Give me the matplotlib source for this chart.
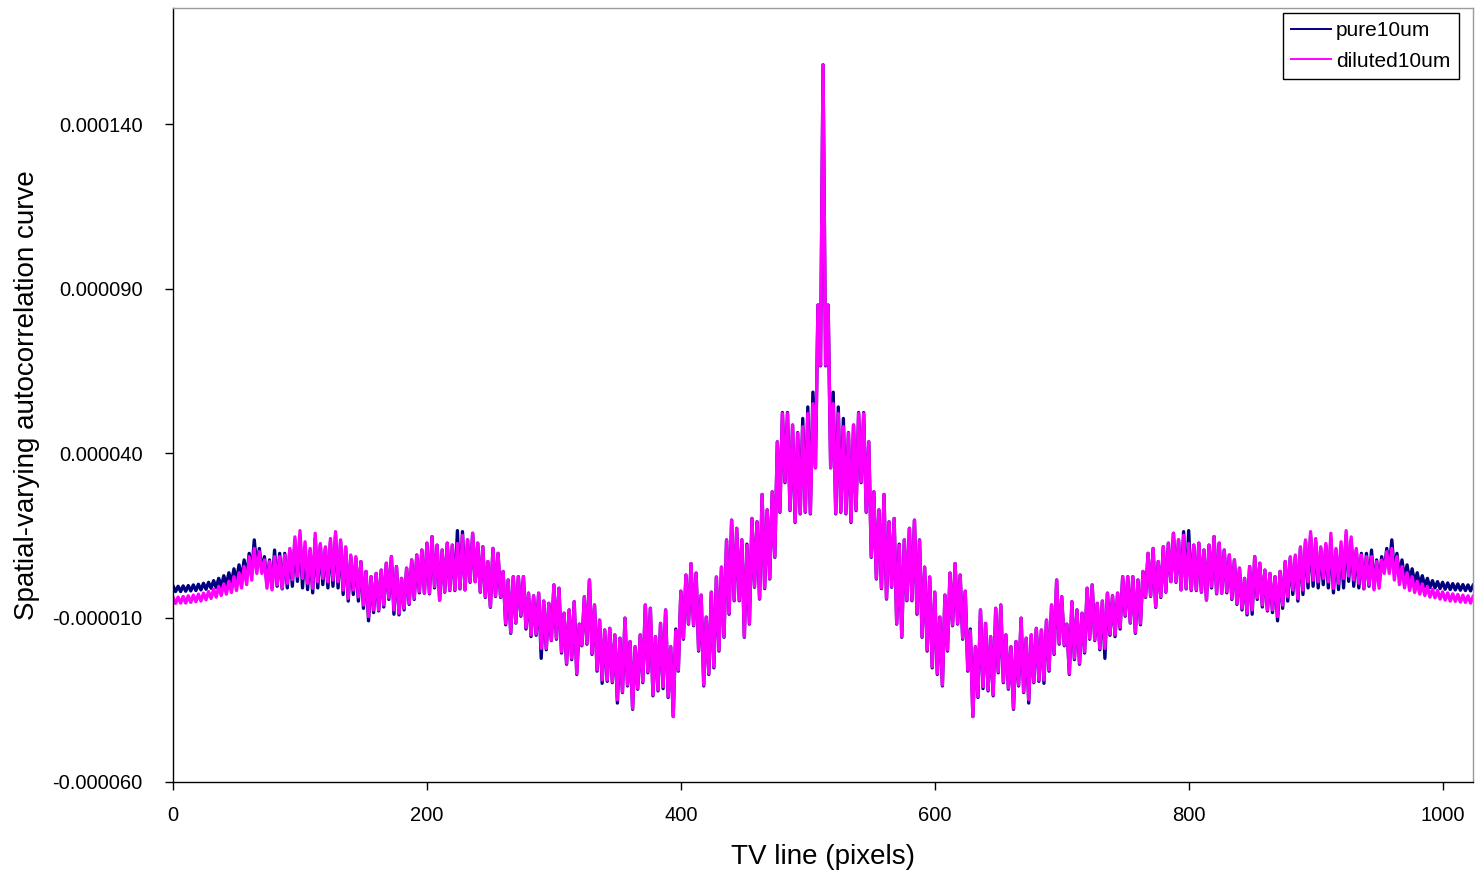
import numpy as np
import matplotlib
matplotlib.use("Agg")
import matplotlib.pyplot as plt
from matplotlib.ticker import FormatStrFormatter
from matplotlib.lines import Line2D

plt.rcParams['font.family'] = ['Liberation Sans', 'DejaVu Sans']

# TV line positions (one reading every 2 lines)
tv_line = np.arange(0, 1025, 2)

# autocorrelation values, in units of 1e-6
pure10um = [
    -0.4, -2.1, -0.5, -2.1, -0.4, -2.0, -0.3, -1.9,
    -0.1, -1.8, 0.1, -1.6, 0.4, -1.4, 0.7, -1.1,
    1.2, -0.9, 1.9, -0.6, 2.7, -0.2, 3.6, 0.4,
    4.8, 1.0, 6.0, 1.6, 7.5, 2.4, 9.5, 3.5,
    13.6, 5.0, 11.0, 4.0, 8.5, 0.0, 7.5, -1.0,
    10.5, -0.5, 9.5, -1.3, 9.5, -1.0, 10.5, -0.5,
    13.5, 1.0, 15.0, -1.0, 11.5, -1.5, 10.5, -2.5,
    14.0, -1.0, 12.0, 0.0, 11.0, -1.0, 13.0, -0.5,
    15.0, -1.0, 13.0, -3.0, 11.0, -5.0, 8.5, -3.0,
    8.0, -5.0, 7.0, -7.2, 4.0, -11.0, 2.4, -8.5,
    3.4, -8.0, 4.4, -6.8, 6.5, -4.5, 8.5, -9.0,
    5.5, -9.2, 1.9, -7.7, 5.0, -6.0, 7.5, -4.5,
    9.0, -2.5, 10.5, -2.6, 12.6, -2.8, 14.6, -1.0,
    12.0, -4.7, 10.5, -2.3, 12.6, -1.8, 12.0, -1.8,
    16.4, -1.3, 16.1, -1.6, 13.6, 0.7, 15.6, 0.9,
    12.6, -2.3, 11.5, -3.9, 7.0, -6.9, 11.0, -3.6,
    9.5, -3.9, 4.0, -12.2, 1.4, -14.8, 2.4, -11.7,
    2.4, -9.6, 2.4, -13.5, -2.6, -15.8, -3.4, -15.4,
    -2.6, -22.4, -5.0, -19.8, -5.7, -17.0, -0.1, -16.6,
    -1.1, -20.8, -8.7, -24.2, -7.7, -22.8, -5.2, -27.3,
    -12.0, -18.6, -3.7, -18.1, 1.4, -21.2, -6.2, -26.3,
    -10.8, -30.0, -13.8, -29.4, -13.3, -29.8, -15.3, -36.0,
    -16.3, -32.8, -10.2, -30.8, -17.3, -37.9, -18.9, -31.8,
    -15.3, -29.8, -6.2, -26.8, -7.2, -33.8, -15.8, -32.3,
    -11.8, -31.6, -7.7, -34.3, -18.9, -40.1, -13.5, -26.3,
    -2.0, -16.6, 2.9, -12.0, 6.4, -12.5, 3.5, -20.2,
    -3.2, -30.8, -9.9, -27.3, -2.3, -25.3, 2.3, -20.2,
    5.3, -16.0, 13.6, -9.0, 19.6, -4.9, 17.1, -4.9,
    13.6, -16.0, 12.3, -12.0, 20.1, -0.8, 19.1, -4.4,
    27.4, -1.2, 22.7, 1.7, 28.2, 8.3, 43.4, 22.0,
    52.3, 31.0, 52.3, 22.5, 48.5, 18.9, 46.2, 21.5,
    50.5, 22.0, 54.0, 21.5, 58.5, 35.5, 85.0, 66.5,
    158.0,
    66.5, 85.0, 35.5, 58.5, 21.5, 54.0, 22.0, 50.5,
    21.5, 46.2, 18.9, 48.5, 22.5, 52.3, 31.0, 52.3,
    22.0, 43.4, 8.3, 28.2, 1.7, 22.7, -1.2, 27.4,
    -4.4, 19.1, -0.8, 20.1, -12.0, 12.3, -16.0, 13.6,
    -4.9, 17.1, -4.9, 19.6, -9.0, 13.6, -16.0, 5.3,
    -20.2, 2.3, -25.3, -2.3, -27.3, -9.9, -30.8, -3.2,
    -20.2, 3.5, -12.5, 6.4, -12.0, 2.9, -16.6, -2.0,
    -26.3, -13.5, -40.1, -18.9, -34.3, -7.7, -31.6, -11.8,
    -32.3, -15.8, -33.8, -7.2, -26.8, -6.2, -29.8, -15.3,
    -31.8, -18.9, -37.9, -17.3, -30.8, -10.2, -32.8, -16.3,
    -36.0, -15.3, -29.8, -13.3, -29.4, -13.8, -30.0, -10.8,
    -26.3, -6.2, -21.2, 1.4, -18.1, -3.7, -18.6, -12.0,
    -27.3, -5.2, -22.8, -7.7, -24.2, -8.7, -20.8, -1.1,
    -16.6, -0.1, -17.0, -5.7, -19.8, -5.0, -22.4, -2.6,
    -15.4, -3.4, -15.8, -2.6, -13.5, 2.4, -9.6, 2.4,
    -11.7, 2.4, -14.8, 1.4, -12.2, 4.0, -3.9, 9.5,
    -3.6, 11.0, -6.9, 7.0, -3.9, 11.5, -2.3, 12.6,
    0.9, 15.6, 0.7, 13.6, -1.6, 16.1, -1.3, 16.4,
    -1.8, 12.0, -1.8, 12.6, -2.3, 10.5, -4.7, 12.0,
    -1.0, 14.6, -2.8, 12.6, -2.6, 10.5, -2.5, 9.0,
    -4.5, 7.5, -6.0, 5.0, -7.7, 1.9, -9.2, 5.5,
    -9.0, 8.5, -4.5, 6.5, -6.8, 4.4, -8.0, 3.4,
    -8.5, 2.4, -11.0, 4.0, -7.2, 7.0, -5.0, 8.0,
    -3.0, 8.5, -5.0, 11.0, -3.0, 13.0, -1.0, 15.0,
    -0.5, 13.0, -1.0, 11.0, 0.0, 12.0, -1.0, 14.0,
    -2.5, 10.5, -1.5, 11.5, -1.0, 15.0, 1.0, 13.5,
    -0.5, 10.5, -1.0, 9.5, -1.3, 9.5, -0.5, 10.5,
    -1.0, 7.5, 0.0, 8.5, 4.0, 11.0, 5.0, 13.6,
    3.5, 9.5, 2.4, 7.5, 1.6, 6.0, 1.0, 4.8,
    0.4, 3.6, -0.2, 2.7, -0.6, 1.9, -0.9, 1.2,
    -1.0, 0.9, -1.2, 0.7, -1.4, 0.5, -1.5, 0.3,
    -1.6, 0.2, -1.7, 0.0, -1.8, -0.1, -1.9, -0.2,
]

diluted10um = [
    -3.9, -5.7, -3.8, -5.6, -3.6, -5.6, -3.4, -5.4,
    -3.2, -5.2, -2.9, -5.0, -2.6, -4.6, -2.1, -4.2,
    -1.4, -3.8, -0.6, -3.3, 0.2, -2.9, 1.0, -2.4,
    2.4, -1.8, 3.6, -1.0, 5.5, 0.0, 8.5, 1.4,
    11.0, 3.4, 10.0, 3.4, 7.5, -1.1, 7.0, -1.6,
    8.5, -0.1, 8.5, -1.1, 9.0, 0.4, 11.0, 1.5,
    14.5, 2.6, 16.4, 1.9, 13.0, 0.4, 11.0, -1.1,
    15.6, 0.9, 12.5, 1.9, 11.5, 0.9, 14.0, 1.4,
    16.1, 0.9, 13.6, -1.6, 11.5, -4.2, 9.0, -1.6,
    8.5, -3.7, 7.0, -6.2, 4.0, -9.7, 2.4, -7.7,
    3.4, -7.7, 4.4, -6.2, 6.5, -4.0, 8.5, -7.7,
    5.5, -8.7, 1.9, -7.2, 5.0, -5.7, 7.5, -4.2,
    9.0, -2.1, 10.5, -2.6, 12.6, -2.6, 14.6, -0.6,
    12.0, -4.7, 10.5, -2.1, 12.6, -1.6, 12.0, -1.6,
    12.5, -1.1, 15.0, -1.6, 13.6, 0.9, 15.6, 0.9,
    12.6, -2.1, 11.5, -3.7, 7.0, -6.7, 11.0, -3.4,
    9.5, -3.7, 4.0, -11.8, 1.4, -14.5, 2.4, -11.5,
    2.4, -9.3, 2.4, -13.0, -2.6, -15.3, -3.4, -15.0,
    -2.6, -19.4, -5.0, -19.4, -5.7, -16.8, -0.1, -16.3,
    -1.1, -20.4, -8.7, -23.9, -7.7, -22.4, -5.2, -27.0,
    -12.0, -18.4, -3.7, -17.8, 1.4, -20.9, -6.2, -25.9,
    -10.8, -29.0, -13.8, -29.0, -13.3, -29.5, -15.3, -35.0,
    -16.3, -32.5, -10.2, -30.5, -17.3, -37.6, -18.9, -31.5,
    -15.3, -29.5, -6.2, -26.5, -7.2, -33.5, -15.8, -32.0,
    -11.8, -31.0, -7.7, -34.0, -18.9, -40.1, -14.0, -26.0,
    -2.0, -16.3, 2.9, -11.8, 6.4, -12.3, 3.5, -19.9,
    -3.2, -30.5, -9.9, -27.0, -2.3, -25.0, 2.3, -19.9,
    5.3, -15.8, 13.5, -8.7, 19.6, -4.7, 17.1, -4.7,
    13.6, -15.8, 12.0, -11.8, 20.1, -0.6, 19.1, -4.2,
    27.4, -1.0, 22.7, 1.9, 28.2, 8.5, 43.4, 22.2,
    52.0, 31.3, 52.0, 22.7, 48.5, 19.1, 46.0, 21.7,
    48.0, 22.2, 52.0, 21.7, 55.0, 35.5, 85.0, 66.7,
    158.0,
    66.7, 85.0, 35.5, 55.0, 21.7, 52.0, 22.2, 48.0,
    21.7, 46.0, 19.1, 48.5, 22.7, 52.0, 31.3, 52.0,
    22.2, 43.4, 8.5, 28.2, 1.9, 22.7, -1.0, 27.4,
    -4.2, 19.1, -0.6, 20.1, -11.8, 12.0, -15.8, 13.6,
    -4.7, 17.1, -4.7, 19.6, -8.7, 13.5, -15.8, 5.3,
    -19.9, 2.3, -25.0, -2.3, -27.0, -9.9, -30.5, -3.2,
    -19.9, 3.5, -12.3, 6.4, -11.8, 2.9, -16.3, -2.0,
    -26.0, -14.0, -40.1, -18.9, -34.0, -7.7, -31.0, -11.8,
    -32.0, -15.8, -33.5, -7.2, -26.5, -6.2, -29.5, -15.3,
    -31.5, -18.9, -37.6, -17.3, -30.5, -10.2, -32.5, -16.3,
    -35.0, -15.3, -29.5, -13.3, -29.0, -13.8, -29.0, -10.8,
    -25.9, -6.2, -20.9, 1.4, -17.8, -3.7, -18.4, -12.0,
    -27.0, -5.2, -22.4, -7.7, -23.9, -8.7, -20.4, -1.1,
    -16.3, -0.1, -16.8, -5.7, -19.4, -5.0, -19.4, -2.6,
    -15.0, -3.4, -15.3, -2.6, -13.0, 2.4, -9.3, 2.4,
    -11.5, 2.4, -14.5, 1.4, -11.8, 4.0, -3.7, 9.5,
    -3.4, 11.0, -6.7, 7.0, -3.7, 11.5, -2.1, 12.6,
    0.9, 15.6, 0.9, 13.6, -1.6, 15.0, -1.1, 12.5,
    -1.6, 12.0, -1.6, 12.6, -2.1, 10.5, -4.7, 12.0,
    -0.6, 14.6, -2.6, 12.6, -2.6, 10.5, -2.1, 9.0,
    -4.2, 7.5, -5.7, 5.0, -7.2, 1.9, -8.7, 5.5,
    -7.7, 8.5, -4.0, 6.5, -6.2, 4.4, -7.7, 3.4,
    -7.7, 2.4, -9.7, 4.0, -6.2, 7.0, -3.7, 8.5,
    -1.6, 9.0, -4.2, 11.5, -1.6, 13.6, 0.9, 16.1,
    1.4, 14.0, 0.9, 11.5, 1.9, 12.5, 0.9, 15.6,
    -1.1, 11.0, 0.4, 13.0, 1.9, 16.4, 2.6, 14.5,
    1.5, 11.0, 0.4, 9.0, -1.1, 8.5, -0.1, 8.5,
    -1.6, 7.0, -1.1, 7.5, 3.4, 10.0, 3.4, 11.0,
    1.4, 8.5, 0.0, 5.5, -1.0, 3.6, -1.8, 2.4,
    -2.4, 1.0, -2.9, 0.2, -3.3, -0.6, -3.8, -1.4,
    -4.0, -1.8, -4.4, -2.2, -4.7, -2.5, -5.0, -2.8,
    -5.1, -3.0, -5.3, -3.2, -5.4, -3.4, -5.6, -3.6,
]

y_ticks = [-0.000060, -0.000010, 0.000040, 0.000090, 0.000140]
x_ticks = [0, 200, 400, 600, 800, 1000]

fig = plt.figure(figsize=(14.75, 8.75), dpi=100)
ax = fig.add_axes([0.1173, 0.1063, 0.8814, 0.8846])

ax.plot(tv_line, np.array(pure10um) * 1e-6, color='#000080', lw=2.4,
        solid_joinstyle='round')
ax.plot(tv_line, np.array(diluted10um) * 1e-6, color='#FF00FF', lw=2.4,
        solid_joinstyle='round')

ax.set_xlim(0, 1024)
ax.set_ylim(-0.000060, 0.0001753)
ax.set_xticks(x_ticks)
ax.set_yticks(y_ticks)
ax.yaxis.set_major_formatter(FormatStrFormatter('%.6f'))
ax.tick_params(axis='x', direction='out', length=6, width=1, labelsize=14.5, pad=11)
ax.tick_params(axis='y', direction='out', length=6, width=1, labelsize=14.5, pad=16)

for side in ['left', 'bottom']:
    ax.spines[side].set_color('black')
    ax.spines[side].set_linewidth(1.0)
for side in ['top', 'right']:
    ax.spines[side].set_color('#9a9a9a')
    ax.spines[side].set_linewidth(1.0)

ax.set_xlabel('TV line (pixels)', fontsize=20)
ax.set_ylabel('Spatial-varying autocorrelation curve', fontsize=20)
ax.xaxis.set_label_coords(0.5, -0.097)
ax.yaxis.set_label_coords(-0.1123, 0.5)
ax.xaxis.label.set_va('center')
ax.yaxis.label.set_va('center')

handles = [Line2D([], [], color='#000080', lw=1.4),
           Line2D([], [], color='#FF00FF', lw=1.4)]
leg = ax.legend(handles, ['pure10um', 'diluted10um'], loc='upper right',
                bbox_to_anchor=(0.989, 0.9935), borderaxespad=0,
                fontsize=15, frameon=True, fancybox=False, framealpha=1,
                edgecolor='black', handlelength=1.9, handletextpad=0.25,
                borderpad=0.4, labelspacing=0.55)
leg.get_frame().set_linewidth(1.0)

fig.savefig('out.png', dpi=100)
